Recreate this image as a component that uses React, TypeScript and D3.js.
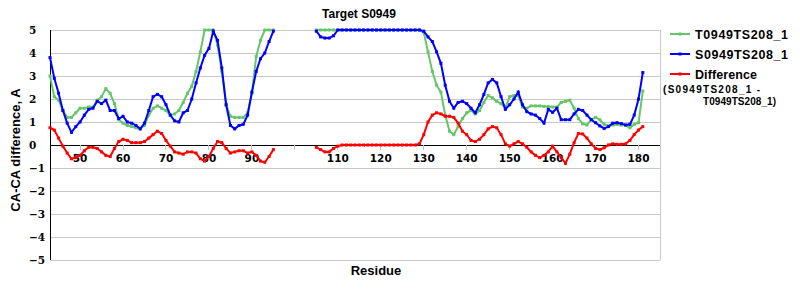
import React from 'react';
import * as d3 from 'd3';

const firstResidue = 43;
const xTicks = [50, 60, 70, 80, 90, 100, 110, 120, 130, 140, 150, 160, 170, 180];
const xTickLabels = ['50', '60', '70', '80', '90', '', '110', '120', '130', '140', '150', '160', '170', '180'];
const yTicks = [5, 4, 3, 2, 1, 0, -1, -2, -3, -4, -5];

// S0949TS208_1 (blue), residues 43..181, null = no data
const serverValues: (number | null)[] = [
  3.8, 2.9, 2.25, 1.5, 0.95, 0.55, 0.8, 1.0, 1.3, 1.55,
  1.6, 1.9, 1.8, 1.95, 1.5, 1.5, 1.15, 1.25, 1.0, 0.95,
  0.85, 0.7, 0.95, 1.5, 2.1, 2.2, 2.1, 1.75, 1.3, 1.05,
  1.0, 1.4, 1.5, 2.0, 2.7, 3.35, 3.9, 4.2, 4.95, 4.55,
  3.35, 1.75, 0.85, 0.7, 0.85, 0.9, 1.3, 2.3, 3.2, 3.75,
  4.0, 4.5, 4.95,
  null, null, null, null, null, null, null, null, null,
  4.95, 4.7, 4.65, 4.65, 4.75,
  5, 5, 5, 5, 5, 5, 5, 5, 5, 5, 5, 5, 5, 5, 5, 5, 5, 5, 5, 5,
  4.95, 4.7, 4.5, 4.05, 3.55, 2.6, 1.9, 1.6, 1.85, 1.9,
  1.8, 1.6, 1.4, 1.75, 2.2, 2.7, 2.85, 2.7, 2.1, 1.55,
  1.75, 2.0, 2.3, 1.75, 1.45, 1.35, 1.3, 1.15, 0.95, 1.55,
  1.42, 1.6, 1.1, 1.1, 1.1, 1.35, 1.55, 1.5, 1.3, 1.1,
  0.97, 0.83, 0.72, 0.8, 0.95, 0.97, 0.93, 0.87, 0.9, 1.3,
  2.0, 3.15,
];

// T0949TS208_1 (green)
const targetValues: (number | null)[] = [
  3.0, 2.1, 1.95, 1.5, 1.2, 1.2, 1.4, 1.6, 1.6, 1.65,
  1.65, 1.95, 2.1, 2.45, 2.25, 1.8, 1.1, 0.95, 0.85, 0.8,
  0.75, 0.7, 0.85, 1.3, 1.6, 1.7, 1.6, 1.5, 1.3, 1.35,
  1.5, 1.85, 2.25, 2.55, 3.2, 4.05, 5, 5, 5, 4.35,
  3.2, 1.75, 1.25, 1.2, 1.2, 1.2, 1.4, 2.25, 3.85, 4.55,
  5, 5, 5,
  null, null, null, null, null, null, null, null, null,
  5, 5, 5, 5, 5,
  5, 5, 5, 5, 5, 5, 5, 5, 5, 5, 5, 5, 5, 5, 5, 5, 5, 5, 5, 5,
  4.9, 4.05, 3.2, 2.6, 2.3, 1.3, 0.6, 0.45, 0.8, 1.15,
  1.4, 1.5, 1.35, 1.5, 1.85, 2.15, 2.05, 1.9, 1.8, 1.6,
  2.1, 2.15, 2.15, 1.65, 1.6, 1.7, 1.7, 1.7, 1.68, 1.67,
  1.65, 1.65, 1.85, 1.9, 1.95, 1.6, 1.15, 0.92, 0.87, 1.1,
  1.2, 1.1, 0.9, 0.83, 0.87, 0.9, 0.87, 0.85, 0.75, 0.9,
  0.97, 2.35,
];

// Difference (red)
const differenceValues: (number | null)[] = [
  0.75, 0.65, 0.3, -0.05, -0.35, -0.6, -0.55, -0.45, -0.25, -0.1,
  -0.1, -0.15, -0.3, -0.45, -0.5, -0.15, 0.15, 0.25, 0.2, 0.1,
  0.1, 0.1, 0.15, 0.3, 0.45, 0.6, 0.5, 0.2, -0.05, -0.3,
  -0.35, -0.4, -0.3, -0.3, -0.35, -0.6, -0.7, -0.5, -0.15, 0.15,
  0.1, -0.15, -0.35, -0.3, -0.25, -0.25, -0.35, -0.3, -0.45, -0.7,
  -0.75, -0.5, -0.2,
  null, null, null, null, null, null, null, null, null,
  -0.1, -0.2, -0.3, -0.3, -0.15,
  -0.05, 0, 0, 0, 0, 0, 0, 0, 0, 0, 0, 0, 0, 0, 0, 0, 0, 0, 0, 0.05,
  0.45, 1.0, 1.3, 1.4, 1.35, 1.25, 1.25, 1.2, 0.95, 0.6,
  0.45, 0.2, 0.15, 0.25, 0.45, 0.7, 0.8, 0.75, 0.45, 0.05,
  -0.05, 0.05, 0.15, 0.05, -0.1, -0.3, -0.45, -0.55, -0.45, -0.3,
  -0.05, -0.3, -0.55, -0.8, -0.4, 0.1, 0.5, 0.48, 0.3, 0.05,
  -0.15, -0.2, -0.12, 0, 0.05, 0.03, 0.03, 0.05, 0.2, 0.45,
  0.65, 0.8,
];

const seriesList = [
  { name: 'T0949TS208_1', values: targetValues, color: '#66c566' },
  { name: 'S0949TS208_1', values: serverValues, color: '#0000ff' },
  { name: 'Difference', values: differenceValues, color: '#ff0000' },
];

const W = 800;
const H = 300;
const left = 50;
const right = 660;
const top = 30;
const bottom = 260;

export default function App() {
  const x = d3.scaleLinear().domain([43, 185]).range([left, right]);
  const y = d3.scaleLinear().domain([-5, 5]).range([bottom, top]);

  type P = { r: number; v: number | null };
  const line = d3
    .line<P>()
    .defined((d) => d.v !== null)
    .x((d) => x(d.r))
    .y((d) => y(d.v as number));

  const bold = 'bold';
  const sans = '"Liberation Sans", Arial, sans-serif';

  return (
    <svg
      width={W}
      height={H}
      style={{ position: 'absolute', left: 0, top: 0, background: '#fff' }}
      xmlns="http://www.w3.org/2000/svg"
    >
      <rect x={0} y={0} width={W} height={H} fill="#fff" />
      {/* gridlines */}
      {yTicks.map((t) => (
        <line
          key={'g' + t}
          x1={left}
          x2={right}
          y1={y(t)}
          y2={y(t)}
          stroke={t === 0 ? '#000' : '#c8c8c8'}
          strokeWidth={1}
          shapeRendering="crispEdges"
        />
      ))}
      {/* right border */}
      <line x1={right + 0.5} x2={right + 0.5} y1={top} y2={bottom} stroke="#c8c8c8" />
      {/* y axis */}
      <line x1={left} x2={left} y1={top} y2={bottom} stroke="#000" shapeRendering="crispEdges" />
      {/* x ticks */}
      {xTicks.map((t) => (
        <line
          key={'xt' + t}
          x1={x(t)}
          x2={x(t)}
          y1={y(0)}
          y2={y(0) + 5}
          stroke="#c0c0c0"
          shapeRendering="crispEdges"
        />
      ))}
      {xTicks.map((t, i) => (
        <text
          key={'xl' + t}
          x={x(t)}
          y={y(0) + 17}
          textAnchor="middle"
          fontFamily='"DejaVu Sans", sans-serif'
          fontWeight={bold}
          fontSize={10.5}
          fill="#000"
        >
          {xTickLabels[i]}
        </text>
      ))}
      {yTicks.map((t) => (
        <text
          key={'yl' + t}
          x={29}
          y={y(t) + 4}
          textAnchor="start"
          fontFamily='"DejaVu Serif", serif'
          fontWeight={bold}
          fontSize={10.5}
          fill="#000"
        >
          {t < 0 ? '\u2212' + Math.abs(t) : String(t)}
        </text>
      ))}
      {/* series */}
      {seriesList.map((s) => {
        const pts: P[] = s.values.map((v, i) => ({ r: firstResidue + i, v }));
        return (
          <g key={s.name}>
            <path d={line(pts) || ''} fill="none" stroke={s.color} strokeWidth={2} />
            {pts
              .filter((p) => p.v !== null)
              .map((p) => (
                <rect
                  key={p.r}
                  x={x(p.r) - 1.5}
                  y={y(p.v as number) - 1.5}
                  width={3}
                  height={3}
                  fill={s.color}
                />
              ))}
          </g>
        );
      })}
      {/* title */}
      <text x={359} y={18} textAnchor="middle" fontFamily={sans} fontWeight={bold} fontSize={12} fill="#000">
        Target S0949
      </text>
      {/* axis titles */}
      <text
        transform="translate(20,150) rotate(-90)"
        textAnchor="middle"
        fontFamily={sans}
        fontWeight={bold}
        fontSize={13}
        fill="#000"
      >
        CA-CA difference, A
      </text>
      <text x={376} y={275} textAnchor="middle" fontFamily={sans} fontWeight={bold} fontSize={13} fill="#000">
        Residue
      </text>
      {/* legend */}
      {seriesList.map((s, i) => {
        const ly = 34 + i * 20;
        return (
          <g key={'lg' + s.name}>
            <line x1={670} x2={690} y1={ly} y2={ly} stroke={s.color} strokeWidth={2} />
            <rect x={678.5} y={ly - 1.5} width={3} height={3} fill={s.color} />
            <text
              x={695}
              y={ly + 4.5}
              fontFamily={sans}
              fontWeight={bold}
              fontSize={12.5}
              fill="#000"
              textLength={s.name === 'Difference' ? 62 : 93}
              lengthAdjust="spacing"
            >
              {s.name}
            </text>
          </g>
        );
      })}
      <text x={663} y={93} fontFamily={sans} fontWeight={bold} fontSize={10} fill="#000" textLength={97} lengthAdjust="spacing">
        (S0949TS208_1 -
      </text>
      <text x={703} y={105} fontFamily={sans} fontWeight={bold} fontSize={10} fill="#000" textLength={73} lengthAdjust="spacing">
        T0949TS208_1)
      </text>
    </svg>
  );
}
